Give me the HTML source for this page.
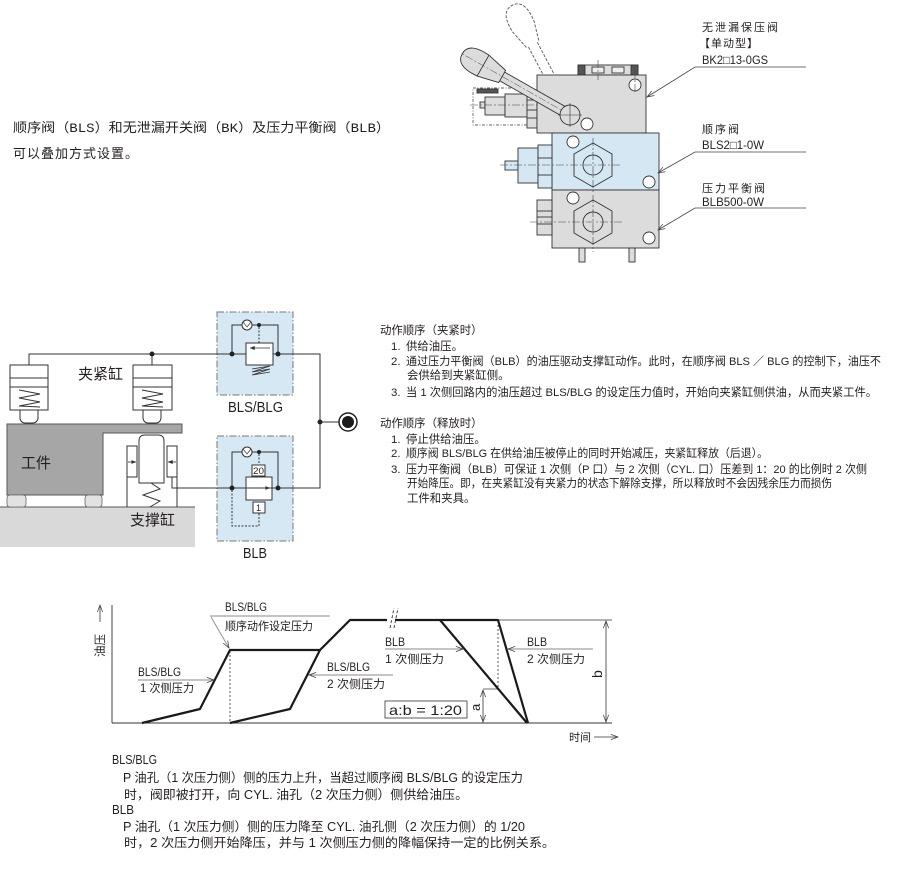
<!DOCTYPE html>
<html><head><meta charset="utf-8">
<style>
html,body{margin:0;padding:0;background:#fff;}
svg{display:block;}
text{font-family:"Liberation Sans","Noto Sans CJK SC",sans-serif;fill:#231f20;}
.mono{font-family:"Liberation Mono","Noto Sans CJK SC",monospace;}
</style></head><body>
<svg width="906" height="880" viewBox="0 0 906 880" xmlns="http://www.w3.org/2000/svg">
<defs>
<marker id="ao" viewBox="0 0 10 8" refX="9.5" refY="4" markerWidth="8" markerHeight="6" orient="auto-start-reverse" markerUnits="userSpaceOnUse"><path d="M0,0.5 L9.5,4 L0,7.5" fill="none" stroke="#444" stroke-width="1"/></marker>
<marker id="af" viewBox="0 0 10 8" refX="9.5" refY="4" markerWidth="5" markerHeight="4" orient="auto-start-reverse" markerUnits="userSpaceOnUse"><path d="M0,0 L10,4 L0,8 Z" fill="#333"/></marker>
</defs>

<!-- top-left text -->
<text class="mono" x="13" y="132" font-size="13" textLength="377" lengthAdjust="spacingAndGlyphs">顺序阀（BLS）和无泄漏开关阀（BK）及压力平衡阀（BLB）</text>
<text class="mono" x="13" y="158" font-size="13" letter-spacing="1">可以叠加方式设置。</text>

<!-- ================= VALVE ================= -->
<g stroke="#333" stroke-width="0.9" fill="none">
  <!-- dashed handle -->
  <g transform="translate(570,115) rotate(242.2)" stroke="#555" stroke-dasharray="3 1.5">
    <path d="M45,-5 L80,-5 M45,5 L80,5"/>
    <path d="M80,-7 L100,-12 Q124,-14 124,0 Q124,14 100,12 L80,7"/>
  </g>
  <!-- BK fitting -->
  <rect x="473" y="88" width="54" height="37" stroke="#666" stroke-dasharray="3 1.5 1 1.5"/>
  <rect x="477" y="89" width="21" height="4" fill="#555"/>
  <rect x="480" y="102" width="5" height="6" fill="#ddd"/>
  <rect x="485" y="97" width="20" height="18" fill="#ddd"/>
  <rect x="505" y="94" width="22" height="23" fill="#ddd"/>
  <rect x="527" y="100" width="10" height="28" fill="#ddd"/>
  <line x1="527" y1="110" x2="537" y2="110"/><line x1="527" y1="118" x2="537" y2="118"/>
  <!-- top component -->
  <rect x="578" y="65" width="60" height="10" fill="#ddd"/>
  <rect x="578" y="65" width="7" height="10" fill="#555"/>
  <rect x="631" y="65" width="7" height="10" fill="#555"/>
  <rect x="592" y="67" width="12" height="6" fill="#eee"/>
  <rect x="612" y="67" width="12" height="6" fill="#eee"/>
  <!-- BK block -->
  <rect x="537" y="75" width="109" height="58" fill="#dcdcdc"/>
  <circle cx="635" cy="85" r="6" fill="#fff"/>
  <circle cx="587" cy="124" r="6" fill="#fff"/>
  <!-- BLS block -->
  <rect x="552" y="133" width="107" height="57" fill="#d4e7f3"/>
  <rect x="505" y="161" width="13" height="9" fill="#d4e7f3"/>
  <rect x="518" y="148" width="20" height="35" fill="#d4e7f3"/>
  <rect x="538" y="145" width="14" height="43" fill="#d4e7f3"/>
  <line x1="538" y1="158" x2="552" y2="158"/><line x1="538" y1="175" x2="552" y2="175"/>
  <polygon points="593,143 612,154 612,176 593,187 574,176 574,154" fill="#d4e7f3"/>
  <circle cx="593" cy="165" r="10" fill="#d4e7f3"/>
  <circle cx="573" cy="142" r="6" fill="#fff"/>
  <circle cx="649" cy="182" r="6" fill="#fff"/>
  <!-- BLB block -->
  <rect x="552" y="190" width="107" height="58" fill="#dcdcdc"/>
  <rect x="537" y="200" width="15" height="35" fill="#dcdcdc"/>
  <line x1="537" y1="211" x2="552" y2="211"/><line x1="537" y1="217" x2="552" y2="217"/><line x1="537" y1="224" x2="552" y2="224"/>
  <polygon points="593,200 612,211 612,233 593,244 574,233 574,211" fill="#dcdcdc"/>
  <circle cx="593" cy="222" r="10" fill="#dcdcdc"/>
  <circle cx="573" cy="198" r="6" fill="#fff"/>
  <circle cx="649" cy="238" r="6" fill="#fff"/>
  <rect x="579" y="248" width="6" height="14" fill="#ddd"/>
  <rect x="629" y="248" width="6" height="14" fill="#ddd"/>
  <!-- center lines -->
  <g stroke="#444" stroke-width="0.6" stroke-dasharray="8 2 2 2">
    <line x1="500" y1="165" x2="622" y2="165"/>
    <line x1="593" y1="138" x2="593" y2="192"/>
    <line x1="530" y1="222" x2="622" y2="222"/>
    <line x1="593" y1="195" x2="593" y2="252"/>
    <line x1="470" y1="105" x2="537" y2="105"/>
    <line x1="635" y1="70" x2="635" y2="92"/>
    <line x1="598" y1="60" x2="598" y2="80"/>
  </g>
  <!-- solid handle -->
  <g transform="translate(570,115) rotate(209.6)" fill="#dcdcdc">
    <rect x="6" y="-5" width="74" height="10"/>
    <path d="M78,-7 L100,-12 Q124,-14 124,0 Q124,14 100,12 L78,7 Z"/>
    <line x1="100" y1="-12" x2="100" y2="12"/>
    <line x1="0" y1="0" x2="125" y2="0" stroke="#555" stroke-width="0.5" stroke-dasharray="8 2 2 2"/>
  </g>
  <circle cx="570" cy="115" r="10" fill="#dcdcdc"/>
  <line x1="558" y1="115" x2="582" y2="115" stroke-width="0.6"/><line x1="570" y1="103" x2="570" y2="127" stroke-width="0.6"/>
</g>
<!-- valve labels -->
<g font-size="11">
  <text x="702" y="31" letter-spacing="2">无泄漏保压阀</text>
  <text x="699" y="47" letter-spacing="1">【单动型】</text>
  <text x="702" y="64" font-size="12" textLength="66" lengthAdjust="spacingAndGlyphs">BK2□13-0GS</text>
  <text x="702" y="133" letter-spacing="2">顺序阀</text>
  <text x="702" y="149" font-size="12" textLength="62" lengthAdjust="spacingAndGlyphs">BLS2□1-0W</text>
  <text x="702" y="192" letter-spacing="2">压力平衡阀</text>
  <text x="702" y="206" font-size="12" textLength="62" lengthAdjust="spacingAndGlyphs">BLB500-0W</text>
</g>
<g stroke="#444" stroke-width="0.8" fill="none">
  <path d="M806,67 H695 L647,97" marker-end="url(#ao)"/>
  <path d="M806,152 H695 L658,173" marker-end="url(#ao)"/>
  <path d="M806,208 H695 L658,230" marker-end="url(#ao)"/>
</g>

<!-- ================= CIRCUIT ================= -->
<rect x="0" y="507" width="195" height="40" fill="#d9d9d9"/>
<line x1="0" y1="507" x2="195" y2="507" stroke="#555" stroke-width="1"/>
<polygon points="7,424 182,424 182,433 103,433 103,495 7,495" fill="#a6a6a6" stroke="#555" stroke-width="1"/>
<rect x="7" y="495" width="19" height="12" rx="3" fill="#e2e2e2" stroke="#666" stroke-width="0.8"/>
<rect x="85" y="495" width="17" height="12" rx="3" fill="#e2e2e2" stroke="#666" stroke-width="0.8"/>
<g stroke="#333" stroke-width="1" fill="none">
  <rect x="217" y="312" width="76" height="83" fill="#d5e8f4" stroke="#777" stroke-dasharray="7 2 1.5 2"/>
  <rect x="217" y="436" width="76" height="105" fill="#d5e8f4" stroke="#777" stroke-dasharray="7 2 1.5 2"/>
  <path d="M29,365 V354 H320 V488 H172 V477"/>
  <path d="M152,354 V365"/>
  <path d="M320,422 H339"/>
  <!-- clamp cylinders -->
  <g fill="#fff">
    <rect x="20" y="405" width="18" height="18" rx="5"/>
    <rect x="10" y="365" width="38" height="45"/>
    <rect x="143" y="405" width="18" height="18" rx="5"/>
    <rect x="133" y="365" width="39" height="45"/>
  </g>
  <line x1="10" y1="378" x2="48" y2="378"/><line x1="10" y1="387" x2="48" y2="387"/>
  <line x1="133" y1="378" x2="172" y2="378"/><line x1="133" y1="387" x2="172" y2="387"/>
  <polyline points="19,390 40,394 19,398 40,402 19,406 40,407"/>
  <polyline points="142,390 163,394 142,398 163,402 142,406 163,407"/>
  <!-- support cylinder -->
  <path d="M127,477 V507 M177,477 V507"/>
  <rect x="127" y="446" width="10" height="31" fill="#fff"/>
  <rect x="167" y="446" width="10" height="31" fill="#fff"/>
  <path d="M139,483 V441 Q139,435 145,435 H158 Q164,435 164,441 V483 Z" fill="#fff"/>
  <polyline points="151,483 160,489 143,495 160,501 150,507"/>
  <line x1="128" y1="462" x2="136" y2="462" stroke-width="0.8" marker-end="url(#af)"/>
  <line x1="176" y1="462" x2="168" y2="462" stroke-width="0.8" marker-end="url(#af)"/>
  <!-- BLS valve -->
  <path d="M232,354 V325 H278 V354"/>
  <circle cx="247" cy="325" r="5" fill="#fff"/>
  <path d="M243,322 L247,327 L251,322" stroke-width="0.7"/>
  <line x1="259" y1="327" x2="259" y2="343" stroke-dasharray="2 1.5"/>
  <rect x="246" y="343" width="27" height="22" fill="#fff"/>
  <line x1="270" y1="348" x2="250" y2="348" stroke-width="0.8" marker-end="url(#af)"/>
  <polyline points="252,369 270,366 252,372 270,369 252,375 270,372" stroke-width="0.8"/>
  <!-- BLB valve -->
  <path d="M232,488 V452 H278 V488"/>
  <circle cx="247" cy="452" r="5" fill="#fff"/>
  <path d="M243,449 L247,454 L251,449" stroke-width="0.7"/>
  <line x1="259" y1="454" x2="259" y2="465" stroke-dasharray="2 1.5"/>
  <rect x="252" y="465" width="13" height="11" fill="#fff"/>
  <rect x="246" y="477" width="26" height="23" fill="#fff"/>
  <line x1="249" y1="488" x2="270" y2="488" stroke-width="0.8" marker-end="url(#af)"/>
  <line x1="246" y1="488" x2="272" y2="488"/>
  <rect x="253" y="502" width="12" height="11" fill="#fff"/>
  <path d="M232,490 V526 H259 V513" stroke-dasharray="2 1.5"/>
  <!-- pump -->
  <circle cx="348" cy="422" r="9" fill="#fff" stroke="#222" stroke-width="1.5"/>
</g>
<circle cx="348" cy="422" r="6" fill="#1a1a1a"/>
<g fill="#222">
  <circle cx="152" cy="354" r="2.5"/><circle cx="232" cy="354" r="2.5"/><circle cx="278" cy="354" r="2.5"/>
  <circle cx="259" cy="325" r="2"/><circle cx="320" cy="422" r="2.5"/>
  <circle cx="232" cy="488" r="2.5"/><circle cx="278" cy="488" r="2.5"/><circle cx="259" cy="452" r="2"/>
</g>
<text x="253" y="474" font-size="9" textLength="11" lengthAdjust="spacingAndGlyphs">20</text>
<text x="256" y="511" font-size="9">1</text>
<text x="78" y="379" font-size="15">夹紧缸</text>
<text x="21" y="468" font-size="15">工件</text>
<text x="130" y="525" font-size="15">支撑缸</text>
<text x="228" y="412" font-size="15" textLength="55" lengthAdjust="spacingAndGlyphs">BLS/BLG</text>
<text x="243" y="558" font-size="15" textLength="24" lengthAdjust="spacingAndGlyphs">BLB</text>

<!-- ================= RIGHT TEXT ================= -->
<g font-size="11.4">
  <text x="380" y="334">动作顺序（夹紧时）</text>
  <text x="391" y="350">1.</text><text x="406" y="350">供给油压。</text>
  <text x="391" y="365">2.</text><text x="406" y="365" textLength="475" lengthAdjust="spacingAndGlyphs">通过压力平衡阀（BLB）的油压驱动支撑缸动作。此时，在顺序阀 BLS ／ BLG 的控制下，油压不</text>
  <text x="407" y="379">会供给到夹紧缸侧。</text>
  <text x="391" y="396">3.</text><text x="406" y="396" textLength="471" lengthAdjust="spacingAndGlyphs">当 1 次侧回路内的油压超过 BLS/BLG 的设定压力值时，开始向夹紧缸侧供油，从而夹紧工件。</text>
  <text x="380" y="427">动作顺序（释放时）</text>
  <text x="391" y="443">1.</text><text x="406" y="443">停止供给油压。</text>
  <text x="391" y="457">2.</text><text x="406" y="457" textLength="362" lengthAdjust="spacingAndGlyphs">顺序阀 BLS/BLG 在供给油压被停止的同时开始减压，夹紧缸释放（后退）。</text>
  <text x="391" y="473">3.</text><text x="406" y="473" textLength="461" lengthAdjust="spacingAndGlyphs">压力平衡阀（BLB）可保证 1 次侧（P 口）与 2 次侧（CYL. 口）压差到 1：20 的比例时 2 次侧</text>
  <text x="407" y="487" textLength="425" lengthAdjust="spacingAndGlyphs">开始降压。即，在夹紧缸没有夹紧力的状态下解除支撑，所以释放时不会因残余压力而损伤</text>
  <text x="407" y="502">工件和夹具。</text>
</g>

<!-- ================= GRAPH ================= -->
<g stroke="#333" stroke-width="0.9" fill="none">
  <line x1="112" y1="605" x2="112" y2="723"/>
  <line x1="112" y1="723" x2="612" y2="723"/>
  <line x1="498" y1="620" x2="612" y2="620" stroke-width="0.7"/>
  <line x1="606" y1="621" x2="606" y2="722" stroke-width="0.8" marker-start="url(#ao)" marker-end="url(#ao)"/>
  <line x1="483" y1="689" x2="498" y2="689" stroke-width="0.7"/>
  <line x1="483" y1="690" x2="483" y2="722" stroke-width="0.8" marker-start="url(#ao)" marker-end="url(#ao)"/>
  <line x1="230" y1="651" x2="230" y2="723" stroke-dasharray="2 2" stroke-width="0.8"/>
  <line x1="498" y1="621" x2="498" y2="689" stroke-dasharray="2 2" stroke-width="0.8"/>
  <rect x="385" y="701" width="82" height="17" stroke-width="0.8"/>
  <!-- y axis arrow & x axis arrow -->
  <line x1="100" y1="622" x2="100" y2="605" stroke-width="0.8" marker-end="url(#ao)"/>
  <line x1="594" y1="737" x2="618" y2="737" stroke-width="0.8" marker-end="url(#ao)"/>
</g>
<g stroke="#1a1a1a" stroke-width="2.2" fill="none" stroke-linejoin="round">
  <polyline points="142,723 200,709 230,650 320,650 350,620 498,620 528,723"/>
  <polyline points="230,723 290,709 320,650"/>
  <line x1="440" y1="620" x2="527" y2="723"/>
</g>
<!-- break mark -->
<rect x="387" y="616" width="8" height="8" fill="#fff"/>
<g stroke="#333" stroke-width="0.9" stroke-dasharray="3 2">
  <line x1="390" y1="628" x2="394" y2="608"/>
  <line x1="394" y1="628" x2="398" y2="608"/>
</g>
<!-- label leaders -->
<g stroke="#888" stroke-width="0.9" fill="none">
  <line x1="210" y1="616" x2="330" y2="616"/>
  <line x1="211" y1="617" x2="229" y2="648" marker-end="url(#ao)"/>
  <line x1="138" y1="680" x2="214" y2="680" marker-end="url(#ao)"/>
  <line x1="393" y1="675" x2="309" y2="675" marker-end="url(#ao)"/>
  <line x1="385" y1="649" x2="463" y2="649" marker-end="url(#ao)"/>
  <line x1="593" y1="649" x2="508" y2="649" marker-end="url(#ao)"/>
</g>
<g font-size="12">
  <text x="225" y="611" textLength="42" lengthAdjust="spacingAndGlyphs">BLS/BLG</text>
  <text x="225" y="630" font-size="11.5" textLength="88" lengthAdjust="spacingAndGlyphs">顺序动作设定压力</text>
  <text x="138" y="676" textLength="43" lengthAdjust="spacingAndGlyphs">BLS/BLG</text>
  <text x="140" y="692" font-size="11.5" textLength="54" lengthAdjust="spacingAndGlyphs">1 次侧压力</text>
  <text x="327" y="671" textLength="43" lengthAdjust="spacingAndGlyphs">BLS/BLG</text>
  <text x="327" y="688" font-size="11.5" textLength="58" lengthAdjust="spacingAndGlyphs">2 次侧压力</text>
  <text x="385" y="646" textLength="20" lengthAdjust="spacingAndGlyphs">BLB</text>
  <text x="385" y="663" font-size="11.5" textLength="59" lengthAdjust="spacingAndGlyphs">1 次侧压力</text>
  <text x="527" y="646" textLength="20" lengthAdjust="spacingAndGlyphs">BLB</text>
  <text x="527" y="663" font-size="11.5" textLength="58" lengthAdjust="spacingAndGlyphs">2 次侧压力</text>
  <text x="389" y="715" font-size="14" textLength="73" lengthAdjust="spacingAndGlyphs">a:b = 1:20</text>
  <text x="569" y="741" font-size="11">时间</text>
  <text transform="translate(104,657) rotate(-90)" font-size="11.5">油压</text>
  <text transform="translate(480,711) rotate(-90)" font-size="13">a</text>
  <text transform="translate(602,678) rotate(-90)" font-size="14">b</text>
</g>

<!-- ================= BOTTOM TEXT ================= -->
<g font-size="12.5">
  <text x="112" y="764" textLength="45" lengthAdjust="spacingAndGlyphs">BLS/BLG</text>
  <text x="123" y="782" textLength="400" lengthAdjust="spacingAndGlyphs">P 油孔（1 次压力侧）侧的压力上升，当超过顺序阀 BLS/BLG 的设定压力</text>
  <text x="124" y="799" textLength="344" lengthAdjust="spacingAndGlyphs">时，阀即被打开，向 CYL. 油孔（2 次压力侧）侧供给油压。</text>
  <text x="112" y="814" textLength="22" lengthAdjust="spacingAndGlyphs">BLB</text>
  <text x="123" y="831" textLength="402" lengthAdjust="spacingAndGlyphs">P 油孔（1 次压力侧）侧的压力降至 CYL. 油孔侧（2 次压力侧）的 1/20</text>
  <text x="124" y="847" textLength="431" lengthAdjust="spacingAndGlyphs">时，2 次压力侧开始降压，并与 1 次侧压力侧的降幅保持一定的比例关系。</text>
</g>
</svg>
</body></html>
